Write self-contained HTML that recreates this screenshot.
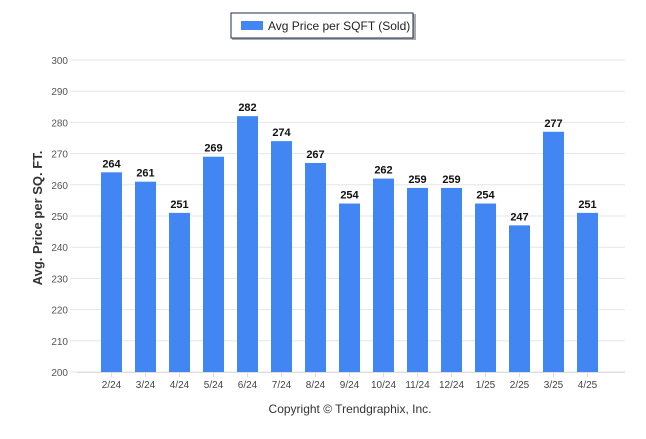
<!DOCTYPE html>
<html><head><meta charset="utf-8"><style>
body{margin:0;background:#fff;font-family:"Liberation Sans",sans-serif}
</style></head><body>
<svg width="646" height="434" xmlns="http://www.w3.org/2000/svg">
<g>
<rect x="232" y="14" width="184" height="26" fill="#555" opacity="0.5"/>
<rect x="231" y="13" width="182" height="25" fill="#fff" stroke="#1f2d4f" stroke-width="1"/>
<rect x="241" y="21" width="22" height="9" fill="#4286f4"/>
<text x="268" y="30" font-size="12" fill="#222">Avg Price per SQFT (Sold)</text>
</g>
<g id="grid"></g>
<g id="bars"></g>
<text transform="translate(42,218) rotate(-90)" text-anchor="middle" font-size="13" font-weight="bold" fill="#333">Avg. Price per SQ. FT.</text>
<text x="350" y="413" text-anchor="middle" font-size="12" fill="#333">Copyright © Trendgraphix, Inc.</text>
</svg>
<script>
const categories=["2/24","3/24","4/24","5/24","6/24","7/24","8/24","9/24","10/24","11/24","12/24","1/25","2/25","3/25","4/25"];
const values=[264,261,251,269,282,274,267,254,262,259,259,254,247,277,251];
const yTicks=[200,210,220,230,240,250,260,270,280,290,300];
const NS="http://www.w3.org/2000/svg";
const yMin=200,yMax=300,yTop=60,yBot=372;
function y(v){return yBot-(v-yMin)/(yMax-yMin)*(yBot-yTop);}
function x(i){return 111.5+34*i;}
const grid=document.getElementById('grid'),bars=document.getElementById('bars');
function mk(tag,attrs,parent,txt){const e=document.createElementNS(NS,tag);for(const k in attrs)e.setAttribute(k,attrs[k]);if(txt!==undefined)e.textContent=txt;parent.appendChild(e);return e;}
yTicks.forEach(t=>{
 const l=mk('line',{x1:70,x2:625,y1:y(t),y2:y(t),stroke:'#e6e6e6','stroke-width':1},grid);
 
 
 const tx=mk('text',{x:68,y:y(t)+4,'text-anchor':'end','font-size':10,fill:'#555'},grid,t);
 
 
});
const ax=mk('line',{x1:77,x2:625,y1:yBot+0.5,y2:yBot+0.5,stroke:'#ddd'},grid);


categories.forEach((c,i)=>{
 const v=values[i];
 const r=mk('rect',{x:x(i)-10.5,y:y(v),width:21,height:yBot-y(v),fill:'#4286f4'},bars);
 
 
 const vl=mk('text',{x:x(i),y:y(v)-5,'text-anchor':'middle','font-size':11,'font-weight':'bold',fill:'#111'},bars,v);
 
 
 const tk=mk('line',{x1:x(i),x2:x(i),y1:yBot,y2:yBot+5,stroke:'#ddd'},bars);
 
 
 const cl=mk('text',{x:x(i),y:yBot+16,'text-anchor':'middle','font-size':10,fill:'#444'},bars,c);
 
 
});
</script>
</body></html>
